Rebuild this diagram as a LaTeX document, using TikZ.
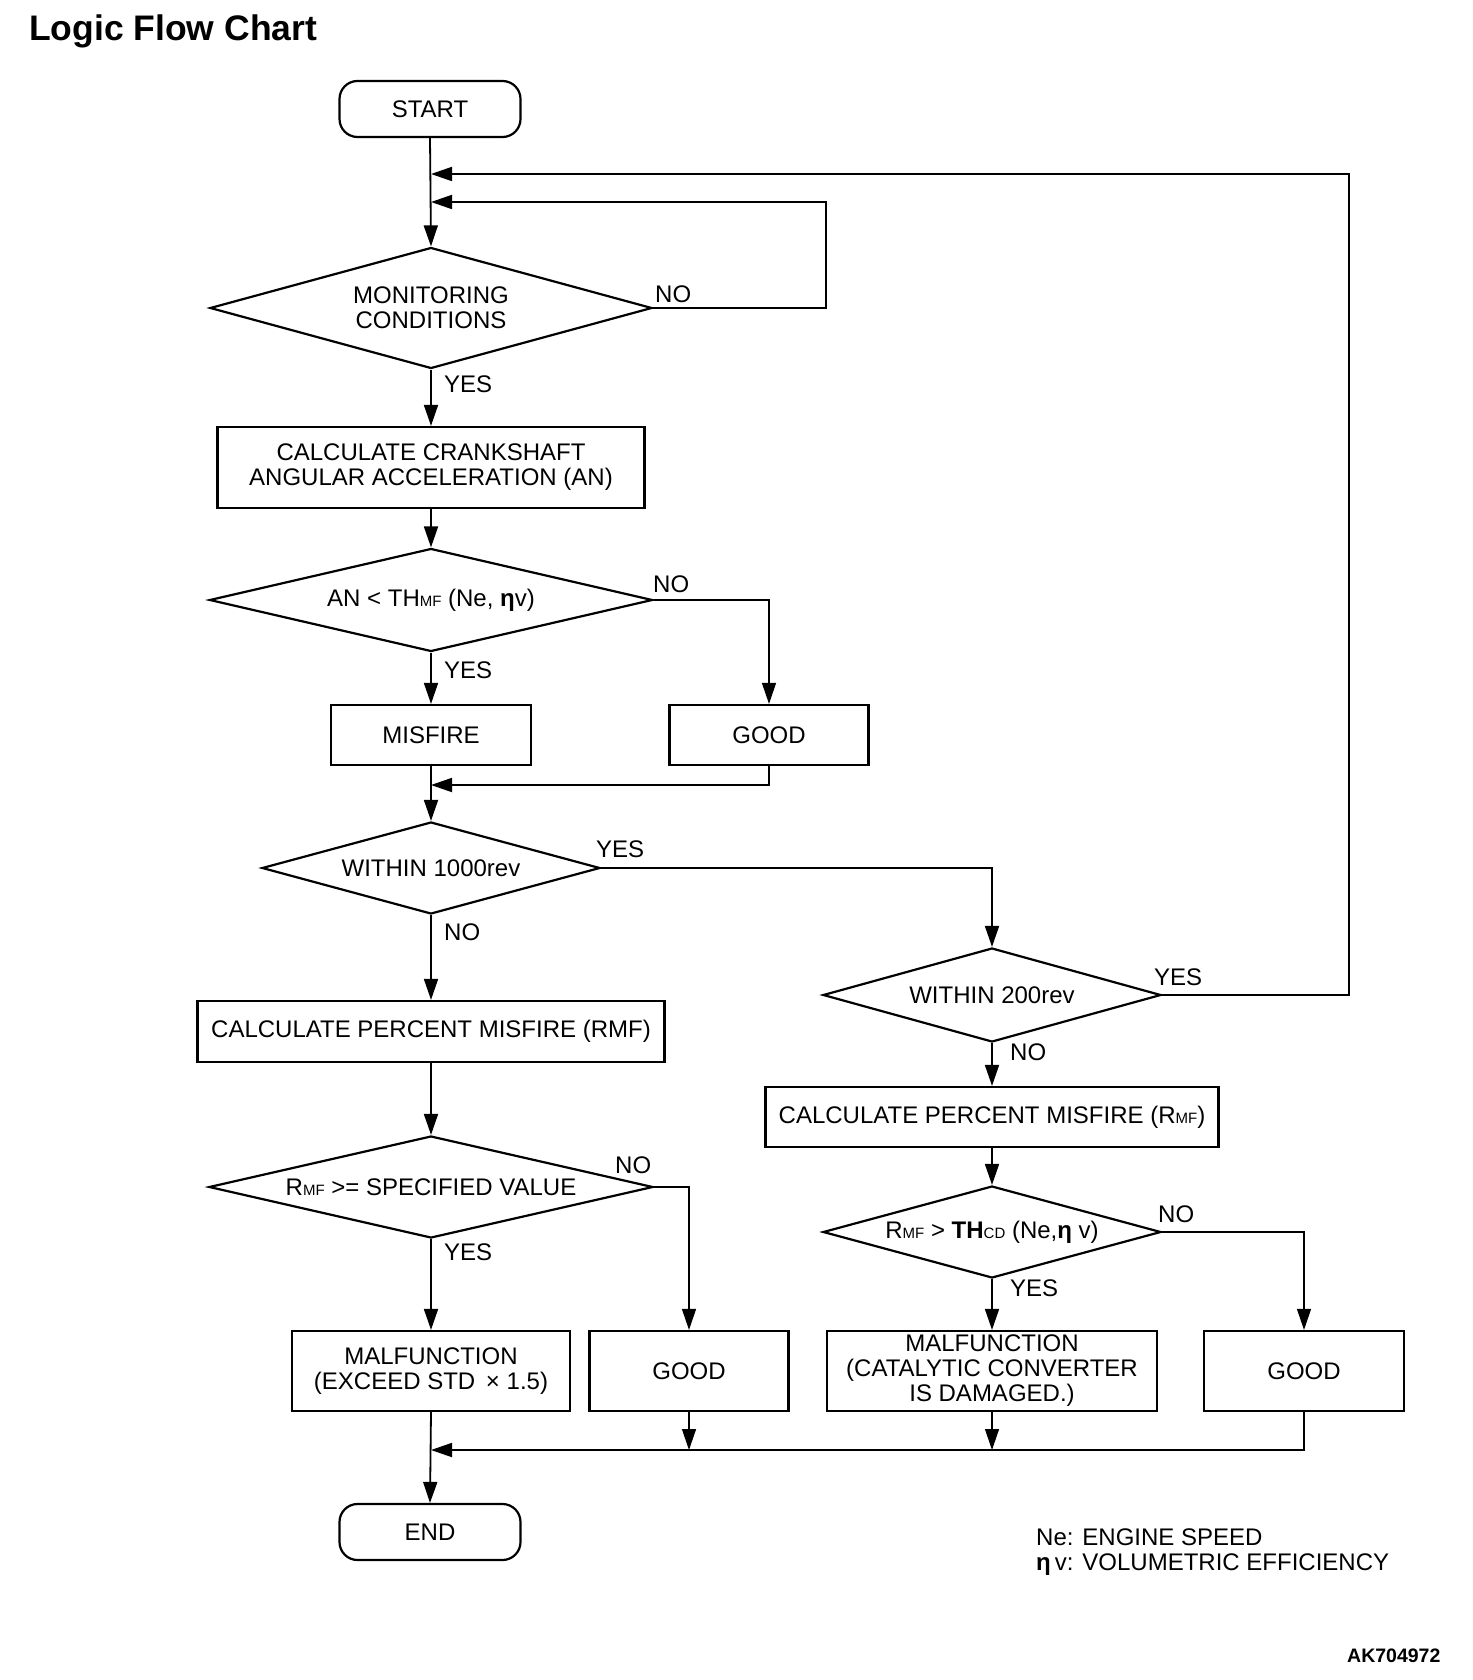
\documentclass[tikz,border=0pt]{standalone}
\usepackage{fontspec}
\setmainfont{Liberation Sans}
\usetikzlibrary{shapes.geometric,arrows.meta}
\newcommand\smc[1]{{\fontsize{15}{15}\selectfont #1}}
\newcommand\eeta{\textbf{η}}
\begin{document}
\begin{tikzpicture}[x=1pt,y=-1pt,
  font=\fontsize{24}{25}\selectfont,
  box/.style={draw, line width=2.2pt, inner sep=0pt, align=center},
  dec/.style={diamond, draw, line width=2.2pt, inner sep=0pt, align=center},
  term/.style={draw, rounded corners=18pt, line width=2.2pt, minimum width=181pt, minimum height=56pt, inner sep=0pt},
  arr/.style={line width=1.8pt, -{Triangle[length=21pt,width=14pt]}},
  thinarr/.style={line width=1.3pt, -{Triangle[length=21pt,width=14pt]}},
  lbl/.style={anchor=base west, inner sep=0pt}]
\useasboundingbox (0,0) rectangle (1472,1680);
\fill[white] (0,0) rectangle (1472,1680);

% title
\node[lbl, font=\fontsize{35.5}{37}\selectfont\bfseries] (title) at (29,41) {Logic Flow Chart};

% terminals
\node[term] (start) at (430,109) {START};
\node[term] (end) at (430,1532) {END};

% decisions
\node[dec, minimum width=442pt, minimum height=121pt, aspect=3.65] (d1) at (431,308) {MONITORING\\CONDITIONS};
\node[dec, minimum width=443pt, minimum height=103pt, aspect=4.3] (d2) at (431,600) {AN < TH\smc{MF} (Ne, \eeta v)};
\node[dec, minimum width=338pt, minimum height=92pt, aspect=3.67] (d3) at (431,868) {WITHIN 1000rev};
\node[dec, minimum width=444pt, minimum height=102pt, aspect=4.35] (d4) at (431,1187) {R\smc{MF} >= SPECIFIED VALUE};
\node[dec, minimum width=338pt, minimum height=94pt, aspect=3.6] (d5) at (992,995) {WITHIN 200rev};
\node[dec, minimum width=338pt, minimum height=92pt, aspect=3.67] (d6) at (992,1232) {R\smc{MF} > \textbf{TH}\smc{CD} (Ne,\eeta\ v)};

% process boxes
\node[box, minimum width=427pt, minimum height=81pt] (calc1) at (431,467.5) {CALCULATE CRANKSHAFT\\ANGULAR ACCELERATION (AN)};
\node[box, minimum width=200pt, minimum height=60pt] (misfire) at (431,735) {MISFIRE};
\node[box, minimum width=199pt, minimum height=60pt] (good1) at (769,735) {GOOD};
\node[box, minimum width=467pt, minimum height=61pt] (calc2) at (431,1031.5) {CALCULATE PERCENT MISFIRE (RMF)};
\node[box, minimum width=453pt, minimum height=60pt] (calc3) at (992,1117) {CALCULATE PERCENT MISFIRE (R\smc{MF})};
\node[box, minimum width=278pt, minimum height=80pt] (malf1) at (431,1371) {MALFUNCTION\\(EXCEED STD \,× 1.5)};
\node[box, minimum width=199pt, minimum height=80pt] (good2) at (689,1371) {GOOD};
\node[box, minimum width=330pt, minimum height=80pt] (malf2) at (992,1371) {MALFUNCTION\\(CATALYTIC CONVERTER\\IS DAMAGED.)};
\node[box, minimum width=200pt, minimum height=80pt] (good3) at (1304,1371) {GOOD};

% junction coordinates
\coordinate (j1) at (431,174);
\coordinate (j2) at (431,202);
\coordinate (j3) at (431,785);
\coordinate (m1) at (431,1450);
\coordinate (m2) at (689,1450);
\coordinate (m3) at (992,1450);

% main flow
\draw[arr] (start.south) -- (d1.north);
\draw[arr] (d1.south) -- (calc1.north);
\draw[arr] (calc1.south) -- (d2.north);
\draw[arr] (d2.south) -- (misfire.north);
\draw[arr] (misfire.south) -- (d3.north);
\draw[arr] (d3.south) -- (calc2.north);
\draw[arr] (calc2.south) -- (d4.north);
\draw[arr] (d4.south) -- (malf1.north);
\draw[arr] (malf1.south) -- (end.north);

% loops
\draw[arr] (d1.east) -- ++(173,0) |- (j2);
\draw[arr] (d5.east) -- ++(187,0) |- (j1);

% branches
\draw[thinarr] (d2.east) -| (good1.north);
\draw[arr] (good1.south) |- (j3);
\draw[arr] (d3.east) -| (d5.north);
\draw[arr] (d5.south) -- (calc3.north);
\draw[arr] (calc3.south) -- (d6.north);
\draw[arr] (d6.south) -- (malf2.north);
\draw[thinarr] (d4.east) -| (good2.north);
\draw[thinarr] (d6.east) -| (good3.north);

% merge
\draw[thinarr] (good2.south) -- (m2);
\draw[thinarr] (malf2.south) -- (m3);
\draw[arr] (good3.south) |- (m1);

% labels
\node[lbl] (l1) at (655,302) {NO};
\node[lbl] (l2) at (444,392) {YES};
\node[lbl] (l3) at (653,592) {NO};
\node[lbl] (l4) at (444,678) {YES};
\node[lbl] (l5) at (596,857) {YES};
\node[lbl] (l6) at (444,940) {NO};
\node[lbl] (l7) at (615,1173) {NO};
\node[lbl] (l8) at (444,1260) {YES};
\node[lbl] (l9) at (1154,985) {YES};
\node[lbl] (l10) at (1010,1060) {NO};
\node[lbl] (l11) at (1158,1222) {NO};
\node[lbl] (l12) at (1010,1296) {YES};

% legend
\node[lbl] (leg1) at (1036,1545) {Ne: ENGINE SPEED};
\node[lbl] (leg2) at (1036,1570) {\eeta\,v: VOLUMETRIC EFFICIENCY};
\node[lbl, font=\fontsize{19.5}{20}\selectfont\bfseries] (code) at (1347,1662) {AK704972};
\end{tikzpicture}
\end{document}
